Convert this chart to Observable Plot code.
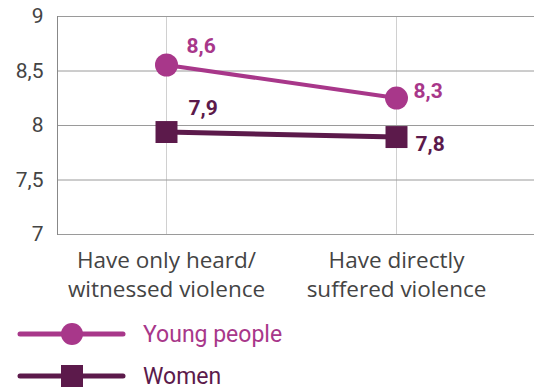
<!DOCTYPE html>
<html>
<head>
<meta charset="utf-8">
<script src="https://cdn.jsdelivr.net/npm/d3@7"></script>
<script src="https://cdn.jsdelivr.net/npm/@observablehq/plot@0.6"></script>
<style>
  html, body { margin: 0; padding: 0; background: #fff; }
  body { width: 534px; height: 392px; overflow: hidden; font-family: Roboto, "Noto Sans", sans-serif; }
  #chart svg { display: block; }
  .legend { position: relative; height: 42px; display: flex; align-items: center; }
  .legend svg { position: absolute; left: 0; top: 0; }
  .legend span { position: absolute; left: 143px; font-size: 23px; line-height: 1; }
</style>
</head>
<body>
<div id="chart"></div>
<div id="legend"></div>
<script>
const categories = ["Have only heard/\nwitnessed violence", "Have directly\nsuffered violence"];
const seriesNames = ["Young people", "Women"];
const youngValues = [8.555, 8.252];
const womenValues = [7.94, 7.894];
const youngLabels = ["8,6", "8,3"];
const womenLabels = ["7,9", "7,8"];
const yTicks = [7, 7.5, 8, 8.5, 9];
const colors = ["#a8378a", "#5c1a4b"];

const young = categories.map((c, i) => ({cat: c, value: youngValues[i], label: youngLabels[i], idx: i}));
const women = categories.map((c, i) => ({cat: c, value: womenValues[i], label: womenLabels[i], idx: i}));

const W = 534, H = 312;
const chart = Plot.plot({
  width: W,
  height: H,
  marginLeft: 57,
  marginRight: 0,
  marginTop: 16,
  marginBottom: H - 234,
  style: {fontFamily: "Roboto, 'Noto Sans', sans-serif", background: "#fff", overflow: "visible"},
  x: {type: "point", domain: categories, range: [166, 396], padding: 0, label: null},
  y: {domain: [7, 9], ticks: yTicks, label: null},
  marks: [
    Plot.ruleX(categories, {x: d => d, stroke: "#d0d0d0", strokeWidth: 1}),
    Plot.ruleY(yTicks, {y: d => d, stroke: "#9a9a9a", strokeWidth: 1}),
    Plot.frame({anchor: "left", stroke: "#888"}),
    Plot.axisY({ticks: yTicks, tickSize: 0, tickPadding: 14, fontSize: 21, color: "#444", label: null, tickFormat: d => String(d).replace(".", ",")}),
    Plot.axisX({tickSize: 0, tickPadding: 14, fontSize: 22.5, fontFamily: "'Open Sans', Roboto, sans-serif", color: "#444", label: null, lineHeight: 1.25}),
    Plot.line(young, {x: "cat", y: "value", stroke: colors[0], strokeWidth: 4}),
    Plot.line(women, {x: "cat", y: "value", stroke: colors[1], strokeWidth: 5}),
    Plot.dot(young, {x: "cat", y: "value", r: 11.5, fill: colors[0], stroke: "none"}),
    Plot.dot(women, {x: "cat", y: "value", symbol: "square", r: 12.4, fill: colors[1], stroke: "none"}),
    Plot.text(young.filter(d => d.idx === 0), {x: "cat", y: "value", text: "label", fill: colors[0], fontSize: 21, fontWeight: "bold", textAnchor: "start", dx: 20, dy: -19}),
    Plot.text(young.filter(d => d.idx === 1), {x: "cat", y: "value", text: "label", fill: colors[0], fontSize: 21, fontWeight: "bold", textAnchor: "start", dx: 17, dy: -7}),
    Plot.text(women.filter(d => d.idx === 0), {x: "cat", y: "value", text: "label", fill: colors[1], fontSize: 21, fontWeight: "bold", textAnchor: "start", dx: 22, dy: -24}),
    Plot.text(women.filter(d => d.idx === 1), {x: "cat", y: "value", text: "label", fill: colors[1], fontSize: 21, fontWeight: "bold", textAnchor: "start", dx: 19, dy: 7})
  ]
});
document.getElementById("chart").appendChild(chart);

// Legend
const legend = document.getElementById("legend");
legend.style.marginTop = "1px";
seriesNames.forEach((name, i) => {
  const row = document.createElement("div");
  row.className = "legend";
  const sym = i === 0
    ? `<circle cx="72" cy="21" r="11" fill="${colors[i]}"/>`
    : `<rect x="61" y="10" width="22" height="22" fill="${colors[i]}"/>`;
  row.innerHTML = `<svg width="130" height="42"><line x1="20" x2="123" y1="21" y2="21" stroke="${colors[i]}" stroke-width="5" stroke-linecap="round"/>${sym}</svg><span style="color:${colors[i]}">${name}</span>`;
  legend.appendChild(row);
});
</script>
</body>
</html>
